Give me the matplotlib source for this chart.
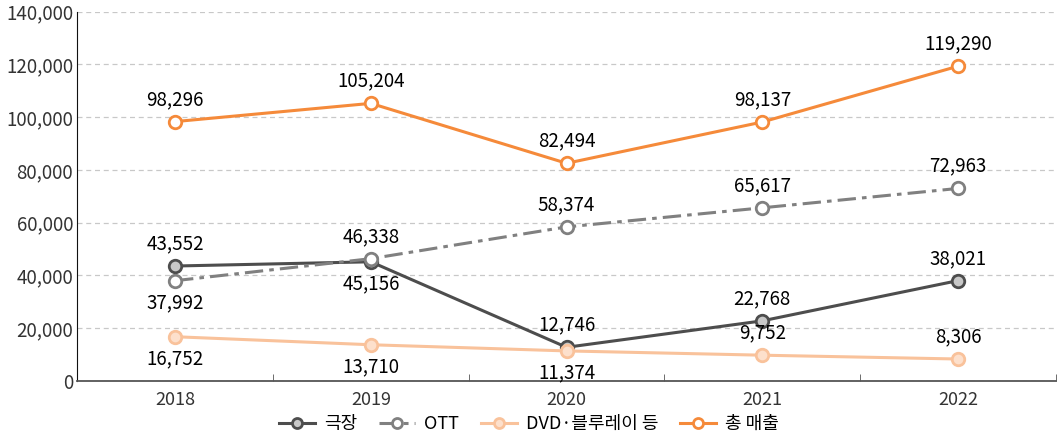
import matplotlib.pyplot as plt
import numpy as np
from matplotlib.ticker import FuncFormatter, FixedLocator

plt.rcParams['font.family'] = ['Noto Sans CJK KR', 'DejaVu Sans']

years = ['2018', '2019', '2020', '2021', '2022']
theater = [43552, 45156, 12746, 22768, 38021]
ott = [37992, 46338, 58374, 65617, 72963]
dvd = [16752, 13710, 11374, 9752, 8306]
total = [98296, 105204, 82494, 98137, 119290]

# label placement: +1 above, -1 below
theater_pos = [1, -1, 1, 1, 1]
ott_pos = [-1, 1, 1, 1, 1]
dvd_pos = [-1, -1, -1, 1, 1]
total_pos = [1, 1, 1, 1, 1]

series = [
    ('극장', theater, theater_pos, '#4d4d4d', '#c8c8c8', '-'),
    ('OTT', ott, ott_pos, '#808080', 'white', (0, (6, 2, 1.5, 2))),
    ('DVD·블루레이 등', dvd, dvd_pos, '#f9c29b', '#fde0cc', '-'),
    ('총 매출', total, total_pos, '#f58a3a', 'white', '-'),
]

fig = plt.figure(figsize=(10.58, 4.45), dpi=100)
ax = fig.add_axes([0.073, 0.144, 0.925, 0.83])
x = np.arange(len(years))

for name, vals, pos, col, fill, ls in series:
    ax.plot(x, vals, color=col, lw=2.2, ls=ls, marker='o', ms=9,
            mfc=fill, mec=col, mew=2, label=name, zorder=3)
    for xi, v, p in zip(x, vals, pos):
        off = 16 if p > 0 else -16
        ax.annotate(f'{v:,}', (xi, v), xytext=(0, off), textcoords='offset points',
                    ha='center', va='center', fontsize=13.5, color='#000000')

ax.set_xlim(-0.5, 4.5)
ax.set_ylim(0, 140000)
ax.set_yticks(np.arange(0, 140001, 20000))
ax.yaxis.set_major_formatter(FuncFormatter(lambda v, p: f'{int(v):,}'))
ax.set_xticks(x)
ax.set_xticklabels(years)
ax.xaxis.set_minor_locator(FixedLocator(np.arange(-0.5, 4.6, 1)))
ax.tick_params(axis='x', which='major', length=0, pad=7, labelsize=13, colors='#333333')
ax.tick_params(axis='x', which='minor', length=5, color='#555555', direction='in')
ax.tick_params(axis='y', length=0, labelsize=13.5, colors='#333333', pad=3)
ax.grid(axis='y', ls=(0, (4, 3)), color='#c8c8c8', lw=0.9)
ax.set_axisbelow(True)
for s in ['top', 'right']:
    ax.spines[s].set_visible(False)
ax.spines['left'].set_color('#111111')
ax.spines['bottom'].set_color('#555555')
ax.spines['bottom'].set_linewidth(1.3)

leg = fig.legend(loc='lower center', bbox_to_anchor=(0.5, -0.01), ncol=4, frameon=False,
                 fontsize=13, handlelength=2.0, columnspacing=1.2, handletextpad=0.5,
                 markerscale=0.8)

fig.savefig('out.png', dpi=100)
